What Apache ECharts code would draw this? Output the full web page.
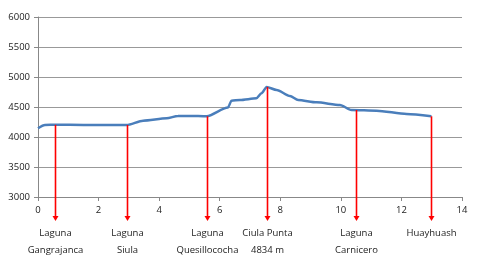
<!DOCTYPE html>
<html>
<head>
<meta charset="utf-8">
<script src="https://cdn.jsdelivr.net/npm/echarts@6/dist/echarts.min.js"></script>
<style>html,body{margin:0;padding:0;background:#fff}#c{width:480px;height:264px}</style>
</head>
<body>
<div id="c"></div>
<script>
// Elevation profile (distance km, elevation m)
var profileX = [0, 0.23, 0.6, 1.5, 2.93, 3.47, 4.25, 4.62, 5.0, 5.57, 6.27, 6.39, 6.67, 7.21, 7.38, 7.55, 7.88, 8.32, 8.59, 9.2, 9.97, 10.35, 11.18, 12.17, 12.99];
var profileY = [4145, 4200, 4205, 4200, 4200, 4272, 4311, 4350, 4352, 4345, 4490, 4605, 4617, 4645, 4728, 4834, 4783, 4683, 4617, 4578, 4533, 4450, 4439, 4383, 4345];
// Landmarks
var markX = [0.56, 2.93, 5.57, 7.57, 10.5, 12.98];
var markY = [4203, 4200, 4345, 4834, 4450, 4345];
var markLine1 = ['Laguna', 'Laguna', 'Laguna', 'Ciula Punta', 'Laguna', 'Huayhuash'];
var markLine2 = ['Gangrajanca', 'Siula', 'Quesillococha', '4834 m', 'Carnicero', ''];
var arrowBottom = 2600;

var chart = echarts.init(document.getElementById('c'));
var font = 'Open Sans, sans-serif';
chart.setOption({
  animation: false,
  grid: {left: 38, right: 18, top: 17, bottom: 67},
  xAxis: {
    type: 'value', min: 0, max: 14, interval: 2,
    axisLine: {lineStyle: {color: '#888', width: 1}},
    axisTick: {show: true, length: 4, lineStyle: {color: '#888'}},
    splitLine: {show: false},
    axisLabel: {color: '#222', fontSize: 9.5, fontFamily: font, margin: 8}
  },
  yAxis: {
    type: 'value', min: 3000, max: 6000, interval: 500,
    axisLine: {show: true, lineStyle: {color: '#888', width: 1}},
    axisTick: {show: true, length: 4, lineStyle: {color: '#888'}},
    splitLine: {lineStyle: {color: '#999', width: 1}},
    axisLabel: {color: '#222', fontSize: 9.5, fontFamily: font, margin: 8,
      formatter: function (v) { return String(v); }}
  },
  series: [
    {
      type: 'line',
      data: profileX.map(function (x, i) { return [x, profileY[i]]; }),
      smooth: 0.25,
      smoothMonotone: 'x',
      showSymbol: false,
      lineStyle: {color: '#4a7ebb', width: 2.5},
      z: 3
    },
    {
      type: 'custom',
      clip: false,
      data: markX.map(function (x, i) { return [x, markY[i], i]; }),
      renderItem: function (params, api) {
        var i = api.value(2);
        var top = api.coord([api.value(0), api.value(1)]);
        var bot = api.coord([api.value(0), arrowBottom]);
        var x = Math.round(top[0]) + 0.5;
        return {
          type: 'group',
          children: [
            {type: 'line', shape: {x1: x, y1: top[1], x2: x, y2: bot[1] - 4},
             style: {stroke: '#ff0000', lineWidth: 1.6}},
            {type: 'polygon', shape: {points: [[x - 3, bot[1] - 5], [x + 3, bot[1] - 5], [x, bot[1]]]},
             style: {fill: '#ff0000'}},
            {type: 'text', style: {x: x, y: bot[1] + 4, text: markLine1[i] + (markLine2[i] ? '\n' + markLine2[i] : ''),
              textAlign: 'center', textVerticalAlign: 'top', fill: '#222', fontSize: 9.5, fontFamily: font, lineHeight: 17}}
          ]
        };
      },
      z: 4
    }
  ]
});
</script>
</body>
</html>
